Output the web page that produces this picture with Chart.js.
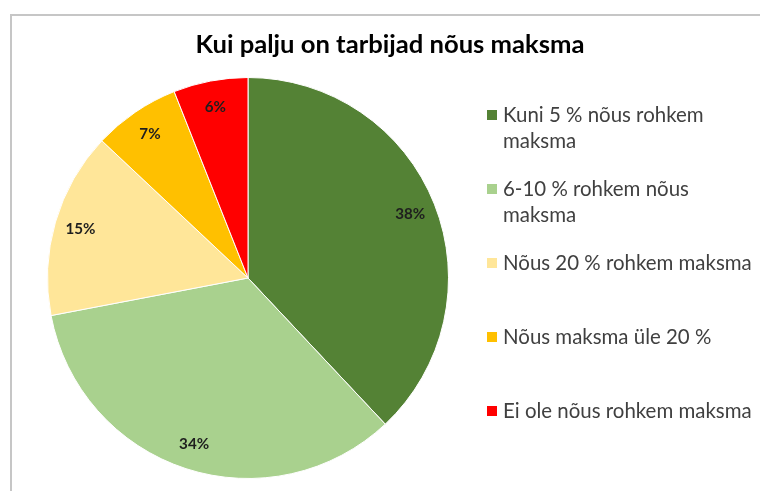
<!DOCTYPE html>
<html>
<head>
<meta charset="utf-8">
<script src="https://cdn.jsdelivr.net/npm/chart.js@4"></script>
<style>
  html, body { margin: 0; padding: 0; background: #fff; }
  #wrap { position: relative; width: 760px; height: 491px; }
  canvas { display: block; }
</style>
</head>
<body>
<div id="wrap"><canvas id="c" width="760" height="491"></canvas></div>
<script>
// ---- data ----
const chartTitle = 'Kui palju on tarbijad nõus maksma';
const categories = [
  'Kuni 5 % nõus rohkem maksma',
  '6-10 % rohkem nõus maksma',
  'Nõus 20 % rohkem maksma',
  'Nõus maksma üle 20 %',
  'Ei ole nõus rohkem maksma'
];
const legendLines = [
  ['Kuni 5 % nõus rohkem', 'maksma'],
  ['6-10 % rohkem nõus', 'maksma'],
  ['Nõus 20 % rohkem maksma'],
  ['Nõus maksma üle 20 %'],
  ['Ei ole nõus rohkem maksma']
];
const shares = [38, 34, 15, 7, 6];
const sliceColors = ['#548235', '#A9D18E', '#FFE699', '#FFC000', '#FF0000'];

const FONT = 'Lato, "Open Sans", "Noto Sans", sans-serif';

function fitSize(ctx, text, weight, target) {
  ctx.font = weight + ' 20px ' + FONT;
  const w = ctx.measureText(text).width;
  return 20 * target / w;
}

const decorPlugin = {
  id: 'decor',
  beforeDraw(chart) {
    const ctx = chart.ctx;
    ctx.save();
    ctx.fillStyle = '#fff';
    ctx.fillRect(0, 0, chart.width, chart.height);
    // frame
    ctx.strokeStyle = '#c6c6c6';
    ctx.lineWidth = 2;
    ctx.beginPath();
    ctx.moveTo(11, 491);
    ctx.lineTo(11, 15);
    ctx.lineTo(760, 15);
    ctx.stroke();
    ctx.restore();
  },
  afterDraw(chart) {
    const ctx = chart.ctx;
    ctx.save();
    // title
    const ts = fitSize(ctx, chartTitle, 'bold', 389);
    ctx.font = 'bold ' + ts.toFixed(2) + 'px ' + FONT;
    ctx.fillStyle = '#000';
    ctx.textAlign = 'center';
    ctx.textBaseline = 'middle';
    ctx.fillText(chartTitle, 390, 45);

    // slice labels
    const meta = chart.getDatasetMeta(0);
    const ps = fitSize(ctx, '38%', 'bold', 30);
    ctx.font = 'bold ' + ps.toFixed(2) + 'px ' + FONT;
    ctx.fillStyle = '#1e1e1e';
    meta.data.forEach((arc, i) => {
      const p = arc.getProps(['x', 'y', 'startAngle', 'endAngle', 'outerRadius'], true);
      const mid = (p.startAngle + p.endAngle) / 2;
      const r = p.outerRadius * 0.87;
      ctx.fillText(shares[i] + '%', p.x + Math.cos(mid) * r, p.y + Math.sin(mid) * r);
    });

    // legend
    const ls = fitSize(ctx, legendLines[2][0], 'normal', 249);
    ctx.font = 'normal ' + ls.toFixed(2) + 'px ' + FONT;
    ctx.textAlign = 'left';
    ctx.textBaseline = 'middle';
    const x0 = 487, tx = 503, y0 = 115, step = 74, lh = 26;
    legendLines.forEach((lines, i) => {
      const y = y0 + i * step;
      ctx.fillStyle = sliceColors[i];
      ctx.fillRect(x0, y - 5, 10, 10);
      ctx.fillStyle = '#404040';
      lines.forEach((t, j) => ctx.fillText(t, tx, y + j * lh));
    });
    ctx.restore();
  }
};

new Chart(document.getElementById('c'), {
  type: 'pie',
  data: {
    labels: categories,
    datasets: [{
      data: shares,
      backgroundColor: sliceColors,
      borderColor: '#ffffff',
      borderWidth: 1
    }]
  },
  options: {
    responsive: false,
    maintainAspectRatio: false,
    animation: false,
    layout: { padding: { left: 47, right: 311, top: 77, bottom: 12 } },
    plugins: {
      legend: { display: false },
      title: { display: false },
      tooltip: { enabled: false }
    }
  },
  plugins: [decorPlugin]
});
</script>
</body>
</html>
